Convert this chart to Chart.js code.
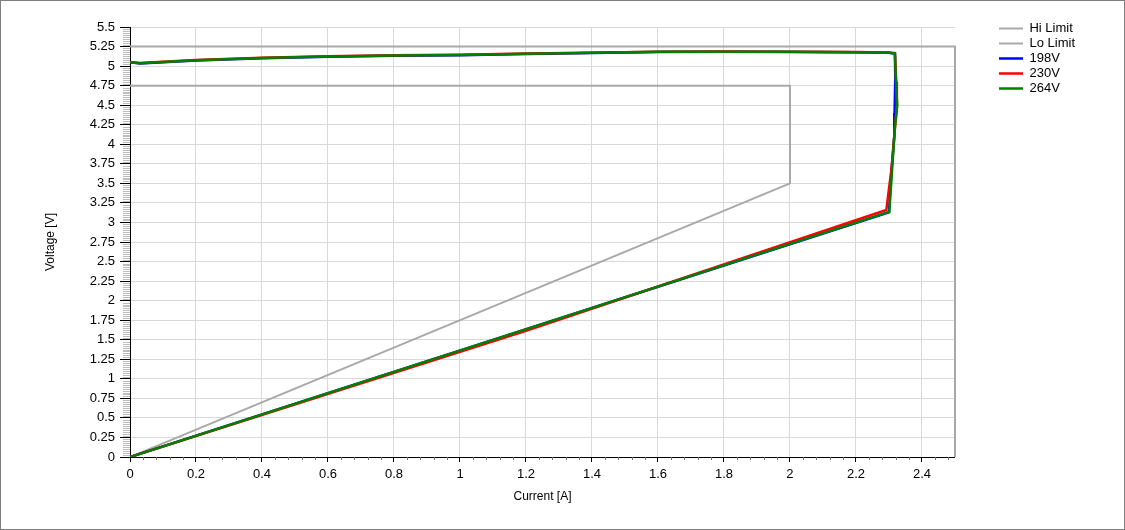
<!DOCTYPE html>
<html>
<head>
<meta charset="utf-8">
<title>Voltage vs Current</title>
<script src="https://cdn.jsdelivr.net/npm/chart.js@4.4.1/dist/chart.umd.min.js"></script>
<style>
  html, body { margin: 0; padding: 0; background: #fff; }
  #wrap { width: 1125px; height: 530px; box-sizing: border-box; border: 1px solid #7f7f7f; }
  canvas { display: block; }
</style>
</head>
<body>
<div id="wrap"><canvas id="vi" width="1123" height="528"></canvas></div>
<script>
// Limit envelopes
const hiLimitI = [0, 2.5, 2.5];
const hiLimitV = [5.25, 5.25, 0];
const loLimitI = [0, 2, 2, 0];
const loLimitV = [4.75, 4.75, 3.5, 0];

// Measured curves, one per input voltage
const i198 = [0, 0.03, 0.2, 0.4, 0.6, 0.8, 1.0, 1.2, 1.4, 1.6, 1.8, 2.0, 2.2, 2.3, 2.318, 2.319, 2.317, 2.316, 2.307, 2.3, 0];
const v198 = [5.048, 5.033, 5.072, 5.1, 5.12, 5.133, 5.14, 5.155, 5.168, 5.18, 5.184, 5.181, 5.177, 5.171, 5.16, 4.85, 4.4, 4.1, 3.63, 3.13, 0];
const i230 = [0, 0.03, 0.2, 0.4, 0.6, 0.8, 1.0, 1.2, 1.4, 1.6, 1.8, 2.0, 2.2, 2.3, 2.318, 2.322, 2.324, 2.318, 2.308, 2.292, 1.2, 0];
const v230 = [5.052, 5.04, 5.078, 5.108, 5.127, 5.138, 5.145, 5.16, 5.172, 5.184, 5.186, 5.183, 5.179, 5.173, 5.165, 4.8, 4.48, 4.2, 3.7, 3.16, 1.615, 0];
const i264 = [0, 0.03, 0.2, 0.4, 0.6, 0.8, 1.0, 1.2, 1.4, 1.6, 1.8, 2.0, 2.2, 2.3, 2.318, 2.321, 2.325, 2.318, 2.31, 2.301, 0];
const v264 = [5.05, 5.035, 5.075, 5.105, 5.124, 5.136, 5.142, 5.157, 5.17, 5.182, 5.185, 5.182, 5.178, 5.172, 5.16, 4.82, 4.5, 4.22, 3.71, 3.135, 0];

// Axes
const xTicks = [0, 0.2, 0.4, 0.6, 0.8, 1, 1.2, 1.4, 1.6, 1.8, 2, 2.2, 2.4];
const xTickLabels = ['0', '0.2', '0.4', '0.6', '0.8', '1', '1.2', '1.4', '1.6', '1.8', '2', '2.2', '2.4'];
const yTicks = [0, 0.25, 0.5, 0.75, 1, 1.25, 1.5, 1.75, 2, 2.25, 2.5, 2.75, 3, 3.25, 3.5, 3.75, 4, 4.25, 4.5, 4.75, 5, 5.25, 5.5];
const yTickLabels = ['0', '0.25', '0.5', '0.75', '1', '1.25', '1.5', '1.75', '2', '2.25', '2.5', '2.75', '3', '3.25', '3.5', '3.75', '4', '4.25', '4.5', '4.75', '5', '5.25', '5.5'];
const xMax = 2.5, yMax = 5.5;
const xMinorStep = 0.04, yMinorStep = 0.025;

const pts = (xs, ys) => xs.map((x, i) => ({ x, y: ys[i] }));

// small tick marks between the labelled ones
const minorTicks = {
    id: 'minorTicks',
    afterDraw(chart) {
        const { ctx, chartArea: area, scales } = chart;
        ctx.save();
        ctx.lineWidth = 1;

        ctx.strokeStyle = '#bdbdbd';
        ctx.beginPath();
        const ny = Math.round(yMax / yMinorStep);
        for (let i = 0; i <= ny; i++) {
            if (i % 10 === 0) continue;
            const py = Math.round(scales.y.getPixelForValue(i * yMinorStep)) + 0.5;
            ctx.moveTo(area.left - 7, py);
            ctx.lineTo(area.left, py);
        }
        ctx.stroke();

        ctx.strokeStyle = '#707070';
        ctx.beginPath();
        const nx = Math.floor(xMax / xMinorStep + 1e-6);
        for (let i = 0; i <= nx; i++) {
            if (i % 5 === 0) continue;
            const px = Math.round(scales.x.getPixelForValue(i * xMinorStep)) + 0.5;
            ctx.moveTo(px, area.bottom);
            ctx.lineTo(px, area.bottom + 3);
        }
        ctx.stroke();
        ctx.restore();
    }
};

const font = { family: '"Liberation Sans", Arial, sans-serif', size: 13 };

new Chart(document.getElementById('vi'), {
    type: 'line',
    data: {
        datasets: [
            { label: 'Hi Limit', data: pts(hiLimitI, hiLimitV), borderColor: '#a9a9a9', backgroundColor: '#a9a9a9', borderWidth: 2, order: 4, clip: 3 },
            { label: 'Lo Limit', data: pts(loLimitI, loLimitV), borderColor: '#a9a9a9', backgroundColor: '#a9a9a9', borderWidth: 2, order: 3 },
            { label: '198V', data: pts(i198, v198), borderColor: '#0000ff', backgroundColor: '#0000ff', borderWidth: 2.5, order: 2 },
            { label: '230V', data: pts(i230, v230), borderColor: '#ff0000', backgroundColor: '#ff0000', borderWidth: 2.5, order: 1 },
            { label: '264V', data: pts(i264, v264), borderColor: '#008000', backgroundColor: '#008000', borderWidth: 2.5, order: 0 }
        ]
    },
    options: {
        responsive: false,
        animation: false,
        elements: {
            point: { radius: 0, hoverRadius: 0 },
            line: { tension: 0 }
        },
        layout: { padding: { top: 19, right: 39, left: 0, bottom: 0 } },
        plugins: {
            tooltip: { enabled: false },
            legend: {
                position: 'right',
                align: 'start',
                labels: {
                    font: font,
                    color: '#000',
                    padding: 2,
                    usePointStyle: true,
                    pointStyle: 'line',
                    pointStyleWidth: 24,
                    sort: (a, b) => a.datasetIndex - b.datasetIndex
                }
            }
        },
        scales: {
            x: {
                type: 'linear',
                min: 0,
                max: xMax,
                afterBuildTicks: s => { s.ticks = xTicks.map(v => ({ value: v })); },
                afterFit: s => { s.height = 72; },
                ticks: {
                    font: font,
                    color: '#000',
                    padding: 5,
                    maxRotation: 0,
                    autoSkip: false,
                    callback: (v, i) => xTickLabels[i]
                },
                grid: { color: '#d9d9d9', tickColor: '#000', tickLength: 5 },
                border: { color: '#000', width: 1 },
                title: { display: true, text: 'Current [A]', color: '#000', font: { family: font.family, size: 12 }, padding: { top: 0, bottom: 25 } }
            },
            y: {
                type: 'linear',
                min: 0,
                max: yMax,
                afterBuildTicks: s => { s.ticks = yTicks.map(v => ({ value: v })); },
                afterFit: s => { s.width = 129; },
                ticks: {
                    font: font,
                    color: '#000',
                    padding: 5,
                    autoSkip: false,
                    callback: (v, i) => yTickLabels[i]
                },
                grid: { color: '#d9d9d9', tickColor: '#000', tickLength: 10 },
                border: { color: '#000', width: 1 },
                title: { display: true, text: 'Voltage [V]', color: '#000', font: { family: font.family, size: 12 }, padding: { top: 42, bottom: 0 } }
            },
            // empty axes that only reserve space round the plot
            xTop: {
                type: 'linear', position: 'top',
                grid: { display: false }, ticks: { display: false }, border: { display: false },
                afterFit: s => { s.height = 7; }
            },
            yRight: {
                type: 'linear', position: 'right',
                grid: { display: false }, ticks: { display: false }, border: { display: false },
                afterFit: s => { s.width = 42; }
            }
        }
    },
    plugins: [minorTicks]
});
</script>
</body>
</html>
